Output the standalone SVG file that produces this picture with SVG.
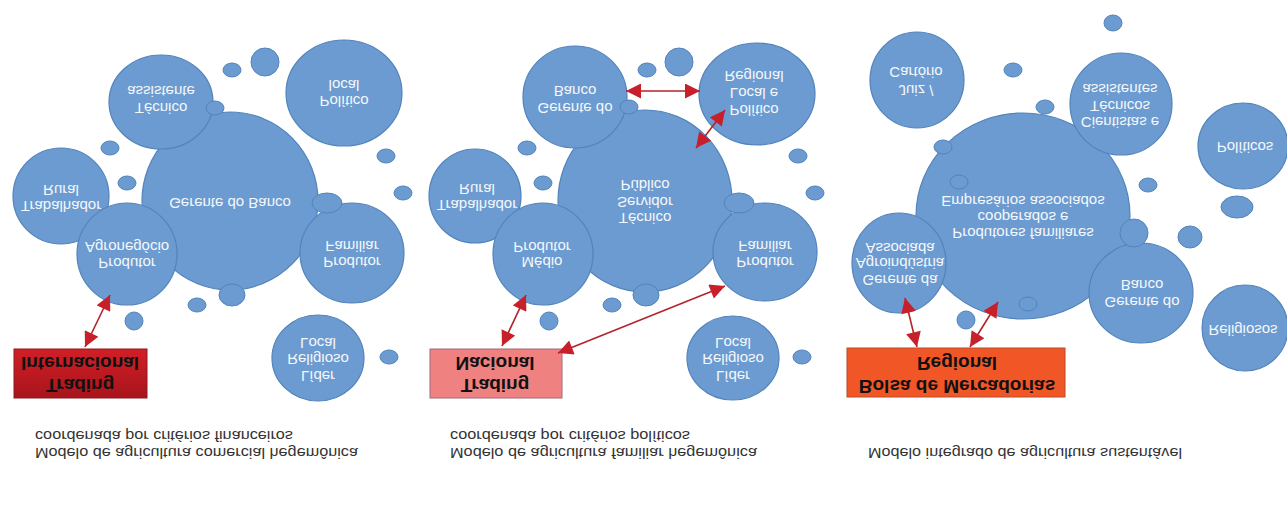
<svg xmlns="http://www.w3.org/2000/svg" width="1287" height="507" viewBox="0 0 1287 507">
<style>
.c{fill:#6b9bd0;stroke:#5283bb;stroke-width:1.2}
.s{fill:#6b9bd0;stroke:#5283bb;stroke-width:1}
.t{font-family:"Liberation Sans",Arial,sans-serif;font-size:15px;fill:#f4f7fb;text-anchor:middle;dominant-baseline:central}
.b{font-family:"Liberation Sans",Arial,sans-serif;font-size:19px;font-weight:bold;fill:#111;text-anchor:middle;dominant-baseline:central}
.cap{font-family:"Liberation Sans",Arial,sans-serif;font-size:14px;fill:#333;dominant-baseline:central}
.a{stroke:#b3232b;stroke-width:1.6;fill:none;marker-start:url(#ah);marker-end:url(#ah)}
</style>
<defs>
<marker id="ah" viewBox="0 0 10 10" refX="10" refY="5" markerUnits="userSpaceOnUse" markerWidth="16" markerHeight="15" orient="auto-start-reverse">
<path d="M0,0 L10,5 L0,10 z" fill="#c8202a"/>
</marker>
<linearGradient id="gr" x1="0" y1="0" x2="0" y2="1">
<stop offset="0" stop-color="#d21f26"/><stop offset="1" stop-color="#a8141b"/>
</linearGradient>
</defs>
<rect width="1287" height="507" fill="#ffffff"/>

<!-- Panel 1 -->
<g id="p1-gerente-banco"><ellipse class="c" cx="230" cy="201" rx="88" ry="89"/><text class="t" transform="translate(230,203) scale(1,-1)">Gerente do Banco</text></g>
<g id="p1-tecnico"><ellipse class="c" cx="161" cy="102" rx="52" ry="47"/><text class="t" transform="translate(161,108) scale(1,-1)">Técnico</text><text class="t" transform="translate(161,91) scale(1,-1)">assistente</text></g>
<g id="p1-politico"><ellipse class="c" cx="344" cy="93" rx="58" ry="53"/><text class="t" transform="translate(344,101) scale(1,-1)">Político</text><text class="t" transform="translate(344,85) scale(1,-1)">local</text></g>
<g id="p1-trabalhador"><ellipse class="c" cx="61" cy="196" rx="48" ry="48"/><text class="t" transform="translate(61,206) scale(1,-1)">Trabalhador</text><text class="t" transform="translate(61,190) scale(1,-1)">Rural</text></g>
<g id="p1-agronegocio"><ellipse class="c" cx="127" cy="254" rx="50" ry="51"/><text class="t" transform="translate(127,263) scale(1,-1)">Produtor</text><text class="t" transform="translate(127,247) scale(1,-1)">Agronegócio</text></g>
<g id="p1-familiar"><ellipse class="c" cx="352" cy="253" rx="52" ry="50"/><text class="t" transform="translate(352,262) scale(1,-1)">Produtor</text><text class="t" transform="translate(352,246) scale(1,-1)">Familiar</text></g>
<g id="p1-lider"><ellipse class="c" cx="318" cy="358" rx="46" ry="43"/><text class="t" transform="translate(318,376) scale(1,-1)">Líder</text><text class="t" transform="translate(318,359) scale(1,-1)">Religioso</text><text class="t" transform="translate(318,343) scale(1,-1)">Local</text></g>
<g id="p1-bubbles">
<ellipse class="s" cx="215" cy="108" rx="9" ry="7"/>
<ellipse class="s" cx="232" cy="70" rx="9" ry="7"/>
<ellipse class="s" cx="265" cy="62" rx="14" ry="14"/>
<ellipse class="s" cx="386" cy="156" rx="9" ry="7"/>
<ellipse class="s" cx="403" cy="193" rx="9" ry="7"/>
<ellipse class="s" cx="327" cy="203" rx="15" ry="10"/>
<ellipse class="s" cx="232" cy="295" rx="13" ry="11"/>
<ellipse class="s" cx="197" cy="305" rx="9" ry="7"/>
<ellipse class="s" cx="134" cy="321" rx="9" ry="9"/>
<ellipse class="s" cx="110" cy="148" rx="9" ry="7"/>
<ellipse class="s" cx="127" cy="183" rx="9" ry="7"/>
<ellipse class="s" cx="389" cy="357" rx="9" ry="7"/>
</g>
<g id="p1-trading"><rect x="14" y="349" width="133" height="49" fill="url(#gr)" stroke="#8a1a22" stroke-width="1"/><text class="b" transform="translate(80,363) scale(1,-1)">Internacional</text><text class="b" transform="translate(80,385) scale(1,-1)">Trading</text></g>

<!-- Panel 2 -->
<g id="p2-tecnico-servidor"><ellipse class="c" cx="645" cy="201" rx="87" ry="91"/><text class="t" transform="translate(645,218) scale(1,-1)">Técnico</text><text class="t" transform="translate(645,202) scale(1,-1)">Servidor</text><text class="t" transform="translate(645,185) scale(1,-1)">Público</text></g>
<g id="p2-gerente"><ellipse class="c" cx="575" cy="97" rx="52" ry="51"/><text class="t" transform="translate(575,108) scale(1,-1)">Gerente do</text><text class="t" transform="translate(575,91) scale(1,-1)">Banco</text></g>
<g id="p2-politico"><ellipse class="c" cx="757" cy="94" rx="58" ry="51"/><text class="t" transform="translate(754,110) scale(1,-1)">Político</text><text class="t" transform="translate(754,93) scale(1,-1)">Local e</text><text class="t" transform="translate(754,76) scale(1,-1)">Regional</text></g>
<g id="p2-trabalhador"><ellipse class="c" cx="475" cy="196" rx="46" ry="47"/><text class="t" transform="translate(477,205) scale(1,-1)">Trabalhador</text><text class="t" transform="translate(477,189) scale(1,-1)">Rural</text></g>
<g id="p2-medio"><ellipse class="c" cx="543" cy="254" rx="50" ry="51"/><text class="t" transform="translate(542,262) scale(1,-1)">Médio</text><text class="t" transform="translate(542,247) scale(1,-1)">Produtor</text></g>
<g id="p2-familiar"><ellipse class="c" cx="765" cy="252" rx="52" ry="49"/><text class="t" transform="translate(765,262) scale(1,-1)">Produtor</text><text class="t" transform="translate(765,246) scale(1,-1)">Familiar</text></g>
<g id="p2-lider"><ellipse class="c" cx="733" cy="358" rx="46" ry="42"/><text class="t" transform="translate(733,376) scale(1,-1)">Líder</text><text class="t" transform="translate(733,359) scale(1,-1)">Religioso</text><text class="t" transform="translate(733,343) scale(1,-1)">Local</text></g>
<g id="p2-bubbles">
<ellipse class="s" cx="629" cy="107" rx="9" ry="7"/>
<ellipse class="s" cx="647" cy="70" rx="9" ry="7"/>
<ellipse class="s" cx="679" cy="62" rx="14" ry="14"/>
<ellipse class="s" cx="798" cy="156" rx="9" ry="7"/>
<ellipse class="s" cx="815" cy="193" rx="9" ry="7"/>
<ellipse class="s" cx="739" cy="203" rx="15" ry="10"/>
<ellipse class="s" cx="646" cy="295" rx="13" ry="11"/>
<ellipse class="s" cx="612" cy="305" rx="9" ry="7"/>
<ellipse class="s" cx="549" cy="321" rx="9" ry="9"/>
<ellipse class="s" cx="527" cy="148" rx="9" ry="7"/>
<ellipse class="s" cx="543" cy="183" rx="9" ry="7"/>
<ellipse class="s" cx="802" cy="357" rx="9" ry="7"/>
</g>
<g id="p2-trading"><rect x="430" y="349" width="132" height="49" fill="#f08181" stroke="#a06a80" stroke-width="1"/><text class="b" transform="translate(495,363) scale(1,-1)">Nacional</text><text class="b" transform="translate(495,385) scale(1,-1)">Trading</text></g>

<!-- Panel 3 -->
<g id="p3-produtores"><ellipse class="c" cx="1023" cy="216" rx="107" ry="103"/><text class="t" transform="translate(1023,201) scale(1,-1)">Empresários associados</text><text class="t" transform="translate(1023,217) scale(1,-1)">cooperados e</text><text class="t" transform="translate(1023,233) scale(1,-1)">Produtores familiares</text></g>
<g id="p3-juiz"><ellipse class="c" cx="917" cy="80" rx="47" ry="48"/><text class="t" transform="translate(916,72) scale(1,-1)">Cartório</text><text class="t" transform="translate(916,90) scale(1,-1)">Juiz /</text></g>
<g id="p3-cientistas"><ellipse class="c" cx="1121" cy="104" rx="51" ry="51"/><text class="t" transform="translate(1120,122) scale(1,-1)">Cientistas e</text><text class="t" transform="translate(1120,106) scale(1,-1)">Técnicos</text><text class="t" transform="translate(1120,89) scale(1,-1)">assistentes</text></g>
<g id="p3-politicos"><ellipse class="c" cx="1243" cy="146" rx="45" ry="43"/><text class="t" transform="translate(1245,147) scale(1,-1)">Políticos</text></g>
<g id="p3-agroindustria"><ellipse class="c" cx="899" cy="263" rx="47" ry="50"/><text class="t" transform="translate(900,248) scale(1,-1)">Associada</text><text class="t" transform="translate(900,263) scale(1,-1)">Agroindústria</text><text class="t" transform="translate(900,280) scale(1,-1)">Gerente da</text></g>
<g id="p3-gerente"><ellipse class="c" cx="1141" cy="293" rx="52" ry="50"/><text class="t" transform="translate(1142,285) scale(1,-1)">Banco</text><text class="t" transform="translate(1142,302) scale(1,-1)">Gerente do</text></g>
<g id="p3-religiosos"><ellipse class="c" cx="1245" cy="328" rx="43" ry="43"/><text class="t" transform="translate(1243,330) scale(1,-1)">Religiosos</text></g>
<g id="p3-bubbles">
<ellipse class="s" cx="1113" cy="23" rx="9" ry="8"/>
<ellipse class="s" cx="1013" cy="70" rx="9" ry="7"/>
<ellipse class="s" cx="1045" cy="107" rx="9" ry="7"/>
<ellipse class="s" cx="943" cy="147" rx="9" ry="7"/>
<ellipse class="s" cx="959" cy="182" rx="9" ry="7"/>
<ellipse class="s" cx="1148" cy="185" rx="9" ry="7"/>
<ellipse class="s" cx="1237" cy="207" rx="16" ry="11"/>
<ellipse class="s" cx="1134" cy="233" rx="14" ry="14"/>
<ellipse class="s" cx="1190" cy="237" rx="12" ry="11"/>
<ellipse class="s" cx="1028" cy="304" rx="9" ry="7"/>
<ellipse class="s" cx="966" cy="320" rx="9" ry="9"/>
</g>
<g id="p3-bolsa"><rect x="847" y="348" width="218" height="49" fill="#f15626" stroke="#b84a2a" stroke-width="1"/><text class="b" transform="translate(957,363) scale(1,-1)">Regional</text><text class="b" transform="translate(957,386) scale(1,-1)">Bolsa de Mercadorias</text></g>

<!-- Connectors -->
<g id="connectors">
<line class="a" x1="110" y1="295" x2="85" y2="347"/>
<line class="a" x1="626" y1="91" x2="700" y2="91"/>
<line class="a" x1="725" y1="110" x2="696" y2="148"/>
<line class="a" x1="526" y1="295" x2="502" y2="346"/>
<line class="a" x1="725" y1="286" x2="558" y2="353"/>
<line class="a" x1="905" y1="298" x2="917" y2="347"/>
<line class="a" x1="998" y1="302" x2="970" y2="347"/>
</g>

<!-- Captions -->
<g id="captions">
<text class="cap" transform="translate(35,436) scale(1,-1)" textLength="258" lengthAdjust="spacingAndGlyphs">coordenada por critérios financeiros</text>
<text class="cap" transform="translate(35,453) scale(1,-1)" textLength="323" lengthAdjust="spacingAndGlyphs">Modelo de agricultura comercial hegemônica</text>
<text class="cap" transform="translate(450,436) scale(1,-1)" textLength="240" lengthAdjust="spacingAndGlyphs">coordenada por critérios políticos</text>
<text class="cap" transform="translate(450,453) scale(1,-1)" textLength="307" lengthAdjust="spacingAndGlyphs">Modelo de agricultura familiar hegemônica</text>
<text class="cap" transform="translate(868,453) scale(1,-1)" textLength="314" lengthAdjust="spacingAndGlyphs">Modelo integrado de agricultura sustentável</text>
</g>
</svg>
